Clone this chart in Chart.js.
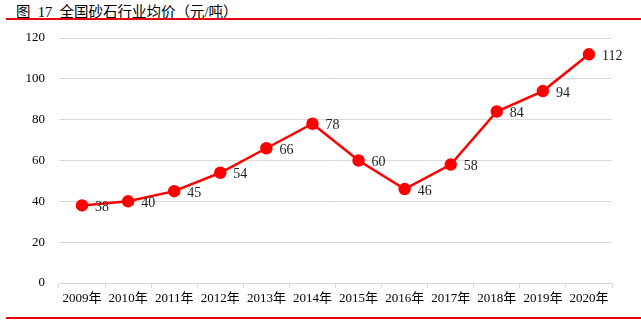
<!DOCTYPE html>
<html>
<head>
<meta charset="utf-8">
<script src="https://cdn.jsdelivr.net/npm/chart.js@4"></script>
<style>
  body { margin: 0; background: #fff; }
  #wrap { position: relative; width: 641px; height: 321px; }
  #titulo { position: absolute; left: 16px; top: 0px; font: 14.5px "Liberation Serif", "Noto Sans CJK SC", serif; color: #000; }
  #linea1 { position: absolute; left: 6px; top: 18px; width: 635px; height: 2px; background: #e60012; }
  #linea2 { position: absolute; left: 6px; top: 317px; width: 635px; height: 2px; background: #e60012; }
  canvas { position: absolute; left: 0; top: 0; }
</style>
</head>
<body>
<div id="wrap">
  <div id="titulo">图&nbsp; 17&nbsp; 全国砂石行业均价（元/吨）</div>
  <div id="linea1"></div>
  <canvas id="grafico" width="641" height="321"></canvas>
  <div id="linea2"></div>
</div>
<script>
const anios = ['2009年', '2010年', '2011年', '2012年', '2013年', '2014年', '2015年', '2016年', '2017年', '2018年', '2019年', '2020年'];
const precios = [38, 40, 45, 54, 66, 78, 60, 46, 58, 84, 94, 112];

// etiquetas de valor a la derecha de cada punto
const etiquetas = {
  id: 'etiquetas',
  afterDatasetsDraw(chart) {
    const ctx = chart.ctx;
    const meta = chart.getDatasetMeta(0);
    ctx.save();
    ctx.font = '14px "Liberation Serif", serif';
    ctx.fillStyle = '#222';
    ctx.textAlign = 'left';
    ctx.textBaseline = 'middle';
    meta.data.forEach((p, i) => {
      ctx.fillText(precios[i], p.x + 13, p.y + 2);
    });
    ctx.restore();
  }
};

const ctx = document.getElementById('grafico').getContext('2d');
const myChart = new Chart(ctx, {
  type: 'line',
  data: {
    labels: anios,
    datasets: [{
      data: precios,
      borderColor: '#ff0000',
      backgroundColor: '#ff0000',
      borderWidth: 2.5,
      pointRadius: 5,
      pointHoverRadius: 5,
      tension: 0
    }]
  },
  options: {
    responsive: false,
    animation: false,
    layout: { padding: { left: 0, right: 29, top: 38, bottom: 0 } },
    plugins: {
      legend: { display: false },
      title: { display: false },
      tooltip: { enabled: false }
    },
    scales: {
      x: {
        offset: true,
        grid: { offset: true, drawOnChartArea: false, color: '#d9d9d9', tickLength: 5 },
        border: { color: '#d9d9d9' },
        ticks: { color: '#000', font: { family: '"Liberation Serif", "Noto Sans CJK SC", serif', size: 13 }, padding: 3, maxRotation: 0, autoSkip: false },
        afterFit(scale) { scale.height = 321 - 283; }
      },
      y: {
        min: 0,
        max: 120,
        grid: { color: '#d9d9d9', drawTicks: false },
        border: { display: false },
        ticks: { stepSize: 20, color: '#000', font: { family: '"Liberation Serif", serif', size: 13 }, padding: 14 },
        afterFit(scale) { scale.width = 59; }
      }
    }
  },
  plugins: [etiquetas]
});
</script>
</body>
</html>
